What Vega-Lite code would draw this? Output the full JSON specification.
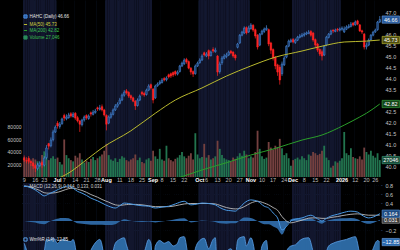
{
"$schema":"https://vega.github.io/schema/vega-lite/v6.json",
"background":"#000000",
"padding":{"left":7,"top":0,"right":0,"bottom":0},
"spacing":0,
"config":{
 "view":{"stroke":null},
 "font":"Liberation Sans",
 "axis":{"labelFont":"Liberation Sans","labelFontSize":5.5,"labelColor":"#c4c4c4","domain":false,"ticks":false,"gridColor":"#1b2f50","gridWidth":0.8,"zindex":1,"labelPadding":2,"labelOverlap":false},
 "legend":{"labelFont":"Liberation Sans","labelFontSize":4.5,"labelColor":"#e0e0e0","padding":0,"rowPadding":0,"labelOffset":1.5,"symbolSize":10,"symbolStrokeWidth":1}
},
"datasets":{
"px":[
{"d":"2025-06-09","o":40.35,"h":40.48,"l":40.18,"c":40.27,"v":32000},
{"d":"2025-06-10","o":40.25,"h":40.4,"l":40.12,"c":40.23,"v":26000},
{"d":"2025-06-11","o":40.35,"h":40.45,"l":40.1,"c":40.2,"v":24000},
{"d":"2025-06-12","o":40.22,"h":40.3,"l":40.0,"c":40.14,"v":22000},
{"d":"2025-06-13","o":40.14,"h":40.2,"l":39.86,"c":40.0,"v":30000},
{"d":"2025-06-16","o":40.02,"h":40.1,"l":39.72,"c":39.9,"v":28000},
{"d":"2025-06-17","o":39.88,"h":40.15,"l":39.8,"c":40.05,"v":25000},
{"d":"2025-06-18","o":40.02,"h":40.22,"l":39.95,"c":40.14,"v":21000},
{"d":"2025-06-20","o":40.16,"h":40.25,"l":39.92,"c":40.05,"v":35000},
{"d":"2025-06-23","o":40.04,"h":40.45,"l":39.98,"c":40.36,"v":41000},
{"d":"2025-06-24","o":40.38,"h":40.95,"l":40.3,"c":40.82,"v":38000},
{"d":"2025-06-25","o":41.02,"h":41.05,"l":40.75,"c":40.9,"v":27000},
{"d":"2025-06-26","o":40.92,"h":41.3,"l":40.85,"c":41.18,"v":30000},
{"d":"2025-06-27","o":41.2,"h":41.65,"l":41.12,"c":41.55,"v":33000},
{"d":"2025-06-30","o":41.55,"h":41.85,"l":41.5,"c":41.77,"v":29000},
{"d":"2025-07-01","o":41.95,"h":42.05,"l":41.7,"c":41.82,"v":31000},
{"d":"2025-07-02","o":41.8,"h":42.0,"l":41.7,"c":41.9,"v":24000},
{"d":"2025-07-03","o":41.92,"h":42.2,"l":41.88,"c":42.14,"v":20000},
{"d":"2025-07-07","o":42.3,"h":42.38,"l":42.05,"c":42.18,"v":60000},
{"d":"2025-07-08","o":42.15,"h":42.35,"l":42.08,"c":42.23,"v":35000},
{"d":"2025-07-09","o":42.2,"h":42.42,"l":42.15,"c":42.32,"v":30000},
{"d":"2025-07-10","o":42.38,"h":42.45,"l":42.2,"c":42.27,"v":27000},
{"d":"2025-07-11","o":42.25,"h":42.45,"l":42.2,"c":42.36,"v":25000},
{"d":"2025-07-14","o":42.4,"h":42.45,"l":42.1,"c":42.18,"v":34000},
{"d":"2025-07-15","o":42.2,"h":42.28,"l":41.98,"c":42.05,"v":31000},
{"d":"2025-07-16","o":42.05,"h":42.1,"l":41.55,"c":41.9,"v":38000},
{"d":"2025-07-17","o":41.88,"h":42.15,"l":41.8,"c":42.09,"v":28000},
{"d":"2025-07-18","o":42.1,"h":42.3,"l":42.02,"c":42.23,"v":23000},
{"d":"2025-07-21","o":42.3,"h":42.35,"l":42.1,"c":42.18,"v":26000},
{"d":"2025-07-22","o":42.16,"h":42.35,"l":42.1,"c":42.27,"v":24000},
{"d":"2025-07-23","o":42.42,"h":42.48,"l":42.25,"c":42.36,"v":29000},
{"d":"2025-07-24","o":42.35,"h":42.55,"l":42.3,"c":42.45,"v":32000},
{"d":"2025-07-25","o":42.44,"h":42.6,"l":42.38,"c":42.5,"v":27000},
{"d":"2025-07-28","o":42.65,"h":42.7,"l":42.5,"c":42.59,"v":30000},
{"d":"2025-07-29","o":42.58,"h":42.78,"l":42.52,"c":42.64,"v":33000},
{"d":"2025-07-30","o":42.7,"h":42.8,"l":42.48,"c":42.55,"v":36000},
{"d":"2025-07-31","o":42.55,"h":42.6,"l":42.25,"c":42.32,"v":42000},
{"d":"2025-08-01","o":42.3,"h":42.35,"l":41.62,"c":41.9,"v":53000},
{"d":"2025-08-04","o":41.95,"h":42.3,"l":41.9,"c":42.23,"v":35000},
{"d":"2025-08-05","o":42.22,"h":42.45,"l":42.15,"c":42.36,"v":28000},
{"d":"2025-08-06","o":42.35,"h":42.62,"l":42.3,"c":42.55,"v":26000},
{"d":"2025-08-07","o":42.55,"h":42.82,"l":42.5,"c":42.73,"v":30000},
{"d":"2025-08-08","o":42.72,"h":42.9,"l":42.65,"c":42.82,"v":24000},
{"d":"2025-08-11","o":42.85,"h":43.1,"l":42.8,"c":43.0,"v":29000},
{"d":"2025-08-12","o":43.0,"h":43.3,"l":42.95,"c":43.23,"v":33000},
{"d":"2025-08-13","o":43.22,"h":43.45,"l":43.15,"c":43.36,"v":31000},
{"d":"2025-08-14","o":43.42,"h":43.5,"l":43.25,"c":43.32,"v":27000},
{"d":"2025-08-15","o":43.35,"h":43.4,"l":43.1,"c":43.18,"v":25000},
{"d":"2025-08-18","o":43.2,"h":43.25,"l":43.0,"c":43.09,"v":28000},
{"d":"2025-08-19","o":43.1,"h":43.15,"l":42.9,"c":42.95,"v":30000},
{"d":"2025-08-20","o":42.95,"h":43.0,"l":42.55,"c":42.73,"v":36000},
{"d":"2025-08-21","o":42.75,"h":43.08,"l":42.7,"c":43.0,"v":27000},
{"d":"2025-08-22","o":43.0,"h":43.25,"l":42.95,"c":43.18,"v":31000},
{"d":"2025-08-25","o":43.35,"h":43.42,"l":43.2,"c":43.27,"v":24000},
{"d":"2025-08-26","o":43.3,"h":43.38,"l":43.15,"c":43.23,"v":22000},
{"d":"2025-08-27","o":43.25,"h":43.52,"l":43.2,"c":43.45,"v":28000},
{"d":"2025-08-28","o":43.45,"h":43.72,"l":43.4,"c":43.64,"v":30000},
{"d":"2025-08-29","o":43.7,"h":43.75,"l":43.48,"c":43.55,"v":26000},
{"d":"2025-09-02","o":43.5,"h":43.55,"l":42.85,"c":43.0,"v":42000},
{"d":"2025-09-03","o":43.1,"h":43.7,"l":43.05,"c":43.64,"v":33000},
{"d":"2025-09-04","o":43.65,"h":43.8,"l":43.6,"c":43.73,"v":29000},
{"d":"2025-09-05","o":43.75,"h":43.9,"l":43.68,"c":43.82,"v":45000},
{"d":"2025-09-08","o":43.8,"h":44.0,"l":43.75,"c":43.91,"v":28000},
{"d":"2025-09-09","o":43.98,"h":44.05,"l":43.85,"c":43.91,"v":26000},
{"d":"2025-09-10","o":43.92,"h":44.08,"l":43.85,"c":44.0,"v":50000},
{"d":"2025-09-11","o":44.15,"h":44.2,"l":43.98,"c":44.05,"v":30000},
{"d":"2025-09-12","o":44.2,"h":44.25,"l":44.0,"c":44.09,"v":27000},
{"d":"2025-09-15","o":44.25,"h":44.3,"l":44.05,"c":44.14,"v":25000},
{"d":"2025-09-16","o":44.3,"h":44.35,"l":44.1,"c":44.18,"v":29000},
{"d":"2025-09-17","o":44.18,"h":44.35,"l":44.12,"c":44.27,"v":31000},
{"d":"2025-09-18","o":44.3,"h":44.6,"l":44.25,"c":44.55,"v":35000},
{"d":"2025-09-19","o":44.55,"h":44.75,"l":44.5,"c":44.68,"v":40000},
{"d":"2025-09-22","o":44.65,"h":44.9,"l":44.6,"c":44.82,"v":33000},
{"d":"2025-09-23","o":44.85,"h":44.92,"l":44.65,"c":44.73,"v":30000},
{"d":"2025-09-24","o":44.75,"h":44.8,"l":44.4,"c":44.45,"v":34000},
{"d":"2025-09-25","o":44.45,"h":44.5,"l":44.15,"c":44.27,"v":38000},
{"d":"2025-09-26","o":44.3,"h":44.35,"l":44.05,"c":44.18,"v":28000},
{"d":"2025-09-29","o":44.2,"h":44.62,"l":44.15,"c":44.55,"v":70000},
{"d":"2025-09-30","o":44.55,"h":44.75,"l":44.5,"c":44.68,"v":36000},
{"d":"2025-10-01","o":44.7,"h":44.9,"l":44.65,"c":44.82,"v":30000},
{"d":"2025-10-02","o":44.82,"h":45.08,"l":44.78,"c":45.0,"v":32000},
{"d":"2025-10-03","o":45.15,"h":45.2,"l":44.98,"c":45.05,"v":53000},
{"d":"2025-10-06","o":45.0,"h":45.18,"l":44.95,"c":45.09,"v":31000},
{"d":"2025-10-07","o":45.25,"h":45.3,"l":44.85,"c":45.0,"v":35000},
{"d":"2025-10-08","o":45.02,"h":45.25,"l":44.98,"c":45.18,"v":28000},
{"d":"2025-10-09","o":45.3,"h":45.4,"l":45.15,"c":45.23,"v":30000},
{"d":"2025-10-10","o":45.2,"h":45.38,"l":45.15,"c":45.27,"v":33000},
{"d":"2025-10-13","o":45.0,"h":45.05,"l":44.1,"c":44.27,"v":58000},
{"d":"2025-10-14","o":44.3,"h":44.75,"l":44.2,"c":44.64,"v":45000},
{"d":"2025-10-15","o":44.7,"h":45.0,"l":44.6,"c":44.91,"v":35000},
{"d":"2025-10-16","o":44.9,"h":45.1,"l":44.85,"c":45.0,"v":30000},
{"d":"2025-10-17","o":44.98,"h":45.15,"l":44.9,"c":45.05,"v":28000},
{"d":"2025-10-20","o":45.05,"h":45.25,"l":45.0,"c":45.18,"v":27000},
{"d":"2025-10-21","o":45.22,"h":45.28,"l":45.08,"c":45.14,"v":25000},
{"d":"2025-10-22","o":45.18,"h":45.22,"l":44.92,"c":45.0,"v":31000},
{"d":"2025-10-23","o":45.05,"h":45.1,"l":44.8,"c":44.91,"v":29000},
{"d":"2025-10-24","o":45.4,"h":45.6,"l":45.35,"c":45.55,"v":33000},
{"d":"2025-10-27","o":45.6,"h":46.0,"l":45.55,"c":45.95,"v":38000},
{"d":"2025-10-28","o":45.95,"h":46.15,"l":45.9,"c":46.09,"v":34000},
{"d":"2025-10-29","o":46.05,"h":46.35,"l":46.0,"c":46.27,"v":42000},
{"d":"2025-10-30","o":46.3,"h":46.35,"l":45.98,"c":46.05,"v":36000},
{"d":"2025-10-31","o":46.1,"h":46.38,"l":46.05,"c":46.27,"v":30000},
{"d":"2025-11-03","o":46.25,"h":46.5,"l":46.2,"c":46.41,"v":33000},
{"d":"2025-11-04","o":46.4,"h":46.45,"l":46.1,"c":46.18,"v":31000},
{"d":"2025-11-05","o":46.2,"h":46.25,"l":45.8,"c":45.91,"v":40000},
{"d":"2025-11-06","o":45.95,"h":46.0,"l":45.3,"c":45.41,"v":74000},
{"d":"2025-11-07","o":45.5,"h":46.05,"l":45.45,"c":46.0,"v":45000},
{"d":"2025-11-10","o":46.0,"h":46.2,"l":45.95,"c":46.14,"v":33000},
{"d":"2025-11-11","o":46.12,"h":46.3,"l":46.05,"c":46.23,"v":29000},
{"d":"2025-11-12","o":46.2,"h":46.4,"l":46.15,"c":46.27,"v":31000},
{"d":"2025-11-13","o":46.2,"h":46.25,"l":45.45,"c":45.55,"v":56000},
{"d":"2025-11-14","o":45.6,"h":45.65,"l":45.1,"c":45.27,"v":47000},
{"d":"2025-11-17","o":45.3,"h":45.35,"l":44.8,"c":44.91,"v":44000},
{"d":"2025-11-18","o":44.95,"h":45.0,"l":44.4,"c":44.55,"v":50000},
{"d":"2025-11-19","o":44.6,"h":44.65,"l":44.1,"c":44.27,"v":48000},
{"d":"2025-11-20","o":44.5,"h":44.6,"l":43.7,"c":43.91,"v":61000},
{"d":"2025-11-21","o":44.2,"h":44.75,"l":44.1,"c":44.64,"v":46000},
{"d":"2025-11-24","o":44.6,"h":45.0,"l":44.55,"c":44.91,"v":35000},
{"d":"2025-11-25","o":44.95,"h":45.5,"l":44.9,"c":45.45,"v":38000},
{"d":"2025-11-26","o":45.45,"h":45.75,"l":45.4,"c":45.68,"v":30000},
{"d":"2025-11-28","o":45.65,"h":45.8,"l":45.6,"c":45.73,"v":18000},
{"d":"2025-12-01","o":45.75,"h":45.82,"l":45.58,"c":45.64,"v":27000},
{"d":"2025-12-02","o":45.62,"h":45.8,"l":45.55,"c":45.73,"v":29000},
{"d":"2025-12-03","o":45.72,"h":45.92,"l":45.68,"c":45.86,"v":31000},
{"d":"2025-12-04","o":45.85,"h":46.0,"l":45.8,"c":45.91,"v":28000},
{"d":"2025-12-05","o":45.9,"h":46.05,"l":45.85,"c":45.95,"v":33000},
{"d":"2025-12-08","o":45.95,"h":46.08,"l":45.88,"c":46.0,"v":30000},
{"d":"2025-12-09","o":46.0,"h":46.12,"l":45.95,"c":46.05,"v":27000},
{"d":"2025-12-10","o":46.02,"h":46.18,"l":46.0,"c":46.09,"v":36000},
{"d":"2025-12-11","o":46.12,"h":46.18,"l":45.88,"c":45.95,"v":34000},
{"d":"2025-12-12","o":46.05,"h":46.1,"l":45.65,"c":45.73,"v":40000},
{"d":"2025-12-15","o":45.75,"h":45.8,"l":45.4,"c":45.5,"v":38000},
{"d":"2025-12-16","o":45.55,"h":45.6,"l":45.18,"c":45.27,"v":35000},
{"d":"2025-12-17","o":45.3,"h":45.35,"l":45.0,"c":45.09,"v":37000},
{"d":"2025-12-18","o":45.2,"h":45.3,"l":44.8,"c":45.0,"v":42000},
{"d":"2025-12-19","o":45.05,"h":45.5,"l":45.0,"c":45.45,"v":50000},
{"d":"2025-12-22","o":45.5,"h":45.92,"l":45.45,"c":45.86,"v":31000},
{"d":"2025-12-23","o":45.85,"h":46.05,"l":45.8,"c":46.0,"v":27000},
{"d":"2025-12-24","o":46.0,"h":46.2,"l":45.95,"c":46.14,"v":15000},
{"d":"2025-12-26","o":46.18,"h":46.22,"l":46.05,"c":46.14,"v":18000},
{"d":"2025-12-29","o":46.12,"h":46.25,"l":46.08,"c":46.18,"v":25000},
{"d":"2025-12-30","o":46.22,"h":46.28,"l":46.1,"c":46.18,"v":23000},
{"d":"2025-12-31","o":46.18,"h":46.3,"l":46.12,"c":46.23,"v":26000},
{"d":"2026-01-02","o":46.22,"h":46.35,"l":46.15,"c":46.27,"v":30000},
{"d":"2026-01-05","o":46.1,"h":46.35,"l":46.05,"c":46.23,"v":72000},
{"d":"2026-01-06","o":46.22,"h":46.4,"l":46.18,"c":46.32,"v":38000},
{"d":"2026-01-07","o":46.3,"h":46.45,"l":46.25,"c":46.36,"v":35000},
{"d":"2026-01-08","o":46.35,"h":46.55,"l":46.3,"c":46.45,"v":46000},
{"d":"2026-01-09","o":46.5,"h":46.55,"l":46.35,"c":46.41,"v":32000},
{"d":"2026-01-12","o":46.42,"h":46.62,"l":46.38,"c":46.55,"v":30000},
{"d":"2026-01-13","o":46.6,"h":46.65,"l":46.4,"c":46.45,"v":29000},
{"d":"2026-01-14","o":46.42,"h":46.45,"l":46.1,"c":46.14,"v":33000},
{"d":"2026-01-15","o":46.15,"h":46.2,"l":46.0,"c":46.09,"v":28000},
{"d":"2026-01-16","o":46.0,"h":46.05,"l":45.3,"c":45.41,"v":47000},
{"d":"2026-01-20","o":45.42,"h":45.62,"l":45.3,"c":45.5,"v":40000},
{"d":"2026-01-21","o":45.5,"h":45.8,"l":45.45,"c":45.73,"v":36000},
{"d":"2026-01-22","o":45.75,"h":46.0,"l":45.7,"c":45.95,"v":42000},
{"d":"2026-01-23","o":45.95,"h":46.15,"l":45.9,"c":46.09,"v":34000},
{"d":"2026-01-26","o":46.1,"h":46.25,"l":46.05,"c":46.18,"v":31000},
{"d":"2026-01-27","o":46.2,"h":46.6,"l":46.15,"c":46.55,"v":38000},
{"d":"2026-01-28","o":46.55,"h":46.82,"l":46.5,"c":46.66,"v":27046}
],
"ma50":[
{"d":"2025-06-09","v":38.9},{"d":"2025-06-24","v":39.25},{"d":"2025-07-08","v":39.62},{"d":"2025-07-22","v":40.36},{"d":"2025-07-30","v":40.82},{"d":"2025-08-18","v":41.6},{"d":"2025-09-03","v":42.4},{"d":"2025-09-16","v":43.0},{"d":"2025-10-02","v":43.55},{"d":"2025-10-17","v":44.09},{"d":"2025-11-03","v":44.55},{"d":"2025-11-18","v":44.95},{"d":"2025-12-05","v":45.23},{"d":"2025-12-18","v":45.45},{"d":"2026-01-05","v":45.64},{"d":"2026-01-20","v":45.68},{"d":"2026-01-28","v":45.73}
],
"ma200":[
{"d":"2025-06-09","v":37.2},{"d":"2025-07-15","v":38.1},{"d":"2025-08-19","v":38.9},{"d":"2025-09-17","v":39.45},{"d":"2025-10-02","v":39.82},{"d":"2025-10-17","v":40.15},{"d":"2025-11-03","v":40.5},{"d":"2025-11-18","v":40.8},{"d":"2025-12-05","v":41.18},{"d":"2025-12-18","v":41.41},{"d":"2026-01-05","v":41.86},{"d":"2026-01-14","v":42.23},{"d":"2026-01-20","v":42.4},{"d":"2026-01-28","v":42.82}
],
"macd":[
{"d":"2025-06-09","m":0.78,"s":0.78,"h":0.0},
{"d":"2025-06-12","m":0.74,"s":0.76,"h":-0.02},
{"d":"2025-06-16","m":0.69,"s":0.72,"h":-0.03},
{"d":"2025-06-18","m":0.62,"s":0.68,"h":-0.06},
{"d":"2025-06-23","m":0.56,"s":0.63,"h":-0.07},
{"d":"2025-06-25","m":0.6,"s":0.62,"h":-0.02},
{"d":"2025-06-30","m":0.67,"s":0.63,"h":0.04},
{"d":"2025-07-03","m":0.74,"s":0.67,"h":0.07},
{"d":"2025-07-09","m":0.78,"s":0.72,"h":0.06},
{"d":"2025-07-11","m":0.73,"s":0.73,"h":0.0},
{"d":"2025-07-15","m":0.66,"s":0.71,"h":-0.05},
{"d":"2025-07-17","m":0.62,"s":0.68,"h":-0.06},
{"d":"2025-07-21","m":0.57,"s":0.64,"h":-0.07},
{"d":"2025-07-23","m":0.51,"s":0.59,"h":-0.08},
{"d":"2025-07-28","m":0.45,"s":0.53,"h":-0.08},
{"d":"2025-07-30","m":0.4,"s":0.48,"h":-0.08},
{"d":"2025-08-04","m":0.33,"s":0.42,"h":-0.09},
{"d":"2025-08-07","m":0.29,"s":0.36,"h":-0.07},
{"d":"2025-08-11","m":0.34,"s":0.35,"h":-0.01},
{"d":"2025-08-13","m":0.4,"s":0.36,"h":0.04},
{"d":"2025-08-15","m":0.39,"s":0.37,"h":0.02},
{"d":"2025-08-20","m":0.36,"s":0.37,"h":-0.01},
{"d":"2025-08-25","m":0.34,"s":0.36,"h":-0.02},
{"d":"2025-08-28","m":0.33,"s":0.34,"h":-0.01},
{"d":"2025-09-03","m":0.29,"s":0.32,"h":-0.03},
{"d":"2025-09-08","m":0.31,"s":0.32,"h":-0.01},
{"d":"2025-09-11","m":0.33,"s":0.32,"h":0.01},
{"d":"2025-09-16","m":0.38,"s":0.34,"h":0.04},
{"d":"2025-09-22","m":0.44,"s":0.38,"h":0.06},
{"d":"2025-09-25","m":0.36,"s":0.39,"h":-0.03},
{"d":"2025-09-30","m":0.38,"s":0.39,"h":-0.01},
{"d":"2025-10-02","m":0.4,"s":0.39,"h":0.01},
{"d":"2025-10-07","m":0.39,"s":0.39,"h":0.0},
{"d":"2025-10-10","m":0.36,"s":0.38,"h":-0.02},
{"d":"2025-10-14","m":0.3,"s":0.35,"h":-0.05},
{"d":"2025-10-17","m":0.24,"s":0.3,"h":-0.06},
{"d":"2025-10-21","m":0.23,"s":0.28,"h":-0.05},
{"d":"2025-10-23","m":0.22,"s":0.27,"h":-0.05},
{"d":"2025-10-27","m":0.3,"s":0.28,"h":0.02},
{"d":"2025-10-29","m":0.4,"s":0.32,"h":0.08},
{"d":"2025-11-03","m":0.47,"s":0.4,"h":0.07},
{"d":"2025-11-06","m":0.44,"s":0.44,"h":0.0},
{"d":"2025-11-11","m":0.33,"s":0.4,"h":-0.07},
{"d":"2025-11-13","m":0.29,"s":0.36,"h":-0.07},
{"d":"2025-11-17","m":0.18,"s":0.3,"h":-0.12},
{"d":"2025-11-19","m":0.07,"s":0.24,"h":-0.17},
{"d":"2025-11-21","m":-0.2,"s":0.1,"h":-0.3},
{"d":"2025-11-25","m":-0.12,"s":0.0,"h":-0.12},
{"d":"2025-11-28","m":0.0,"s":-0.04,"h":0.04},
{"d":"2025-12-02","m":0.04,"s":-0.02,"h":0.06},
{"d":"2025-12-05","m":0.07,"s":0.02,"h":0.05},
{"d":"2025-12-11","m":0.13,"s":0.07,"h":0.06},
{"d":"2025-12-16","m":0.05,"s":0.07,"h":-0.02},
{"d":"2025-12-18","m":0.0,"s":0.06,"h":-0.06},
{"d":"2025-12-22","m":0.06,"s":0.06,"h":0.0},
{"d":"2025-12-24","m":0.11,"s":0.08,"h":0.03},
{"d":"2025-12-30","m":0.15,"s":0.1,"h":0.05},
{"d":"2026-01-02","m":0.18,"s":0.12,"h":0.06},
{"d":"2026-01-08","m":0.22,"s":0.15,"h":0.07},
{"d":"2026-01-13","m":0.2,"s":0.16,"h":0.04},
{"d":"2026-01-15","m":0.13,"s":0.15,"h":-0.02},
{"d":"2026-01-21","m":0.07,"s":0.13,"h":-0.06},
{"d":"2026-01-26","m":0.11,"s":0.13,"h":-0.02},
{"d":"2026-01-28","m":0.164,"s":0.133,"h":0.031}
],
"wr":[
{"d":"2025-06-09","w":-15},{"d":"2025-06-11","w":-40},{"d":"2025-06-13","w":-75},{"d":"2025-06-16","w":-85},{"d":"2025-06-18","w":-60},{"d":"2025-06-23","w":-30},{"d":"2025-06-24","w":-8},{"d":"2025-06-26","w":-10},{"d":"2025-06-27","w":-5},{"d":"2025-07-01","w":-15},{"d":"2025-07-03","w":-8},{"d":"2025-07-08","w":-10},{"d":"2025-07-10","w":-12},{"d":"2025-07-11","w":-8},{"d":"2025-07-15","w":-50},{"d":"2025-07-16","w":-80},{"d":"2025-07-18","w":-40},{"d":"2025-07-22","w":-35},{"d":"2025-07-24","w":-20},{"d":"2025-07-28","w":-10},{"d":"2025-07-29","w":-8},{"d":"2025-07-31","w":-45},{"d":"2025-08-01","w":-85},{"d":"2025-08-05","w":-50},{"d":"2025-08-07","w":-15},{"d":"2025-08-11","w":-8},{"d":"2025-08-13","w":-5},{"d":"2025-08-14","w":-18},{"d":"2025-08-18","w":-45},{"d":"2025-08-20","w":-80},{"d":"2025-08-22","w":-35},{"d":"2025-08-26","w":-30},{"d":"2025-08-28","w":-8},{"d":"2025-08-29","w":-15},{"d":"2025-09-02","w":-70},{"d":"2025-09-03","w":-20},{"d":"2025-09-05","w":-10},{"d":"2025-09-09","w":-15},{"d":"2025-09-11","w":-12},{"d":"2025-09-15","w":-20},{"d":"2025-09-17","w":-15},{"d":"2025-09-18","w":-5},{"d":"2025-09-22","w":-3},{"d":"2025-09-24","w":-45},{"d":"2025-09-26","w":-65},{"d":"2025-09-29","w":-25},{"d":"2025-10-01","w":-10},{"d":"2025-10-03","w":-6},{"d":"2025-10-07","w":-25},{"d":"2025-10-09","w":-8},{"d":"2025-10-10","w":-5},{"d":"2025-10-13","w":-75},{"d":"2025-10-15","w":-40},{"d":"2025-10-17","w":-30},{"d":"2025-10-21","w":-25},{"d":"2025-10-23","w":-40},{"d":"2025-10-24","w":-10},{"d":"2025-10-27","w":-5},{"d":"2025-10-29","w":-3},{"d":"2025-10-30","w":-20},{"d":"2025-11-03","w":-5},{"d":"2025-11-05","w":-40},{"d":"2025-11-06","w":-75},{"d":"2025-11-10","w":-20},{"d":"2025-11-12","w":-10},{"d":"2025-11-13","w":-50},{"d":"2025-11-17","w":-80},{"d":"2025-11-19","w":-90},{"d":"2025-11-20","w":-95},{"d":"2025-11-21","w":-60},{"d":"2025-11-25","w":-30},{"d":"2025-11-28","w":-20},{"d":"2025-12-02","w":-18},{"d":"2025-12-04","w":-10},{"d":"2025-12-08","w":-6},{"d":"2025-12-10","w":-5},{"d":"2025-12-12","w":-30},{"d":"2025-12-16","w":-60},{"d":"2025-12-18","w":-75},{"d":"2025-12-19","w":-50},{"d":"2025-12-23","w":-20},{"d":"2025-12-26","w":-15},{"d":"2025-12-30","w":-12},{"d":"2026-01-02","w":-10},{"d":"2026-01-06","w":-8},{"d":"2026-01-08","w":-5},{"d":"2026-01-12","w":-3},{"d":"2026-01-14","w":-35},{"d":"2026-01-16","w":-70},{"d":"2026-01-21","w":-50},{"d":"2026-01-23","w":-25},{"d":"2026-01-27","w":-10},{"d":"2026-01-28","w":-12.85}
]
},
"resolve":{"scale":{"color":"independent"}},
"vconcat":[
{
 "width":360,"height":177,
 "resolve":{"scale":{"y":"independent"}},
 "layer":[
  {"data":{"name":"px"},"mark":{"type":"bar","width":{"band":1}},
   "encoding":{
    "x":{"field":"d","type":"ordinal","scale":{"paddingInner":0,"paddingOuter":0.5},
     "axis":{"title":null,"grid":true,"bandPosition":0,"labelAngle":0,"labelOverlap":false,"labelPadding":0,
      "values":["2025-06-09","2025-06-16","2025-06-23","2025-07-01","2025-07-07","2025-07-14","2025-07-21","2025-07-28","2025-08-01","2025-08-11","2025-08-18","2025-08-25","2025-09-02","2025-09-08","2025-09-15","2025-09-22","2025-10-01","2025-10-06","2025-10-13","2025-10-20","2025-10-27","2025-11-03","2025-11-10","2025-11-17","2025-11-24","2025-12-01","2025-12-08","2025-12-15","2025-12-22","2026-01-02","2026-01-12","2026-01-20","2026-01-26"],
      "labelExpr":"indexof(['2025-07-01','2025-08-01','2025-09-02','2025-10-01','2025-11-03','2025-12-01','2026-01-02'], datum.value) >= 0 ? ['Jul','Aug','Sep','Oct','Nov','Dec','2026'][indexof(['2025-07-01','2025-08-01','2025-09-02','2025-10-01','2025-11-03','2025-12-01','2026-01-02'], datum.value)] : '' + toNumber(slice(datum.value, 8, 10))",
      "labelFontWeight":{"condition":{"test":"indexof(['2025-07-01','2025-08-01','2025-09-02','2025-10-01','2025-11-03','2025-12-01','2026-01-02'], datum.value) >= 0","value":"bold"},"value":"normal"},
      "labelColor":{"condition":{"test":"indexof(['2025-07-01','2025-08-01','2025-09-02','2025-10-01','2025-11-03','2025-12-01','2026-01-02'], datum.value) >= 0","value":"#ffffff"},"value":"#bdbdbd"}}},
    "fill":{"condition":{"test":"utcmonth(toDate(datum.d)) % 2 == 1","value":"#12162d"},"value":"#000000"}}},
  {"layer":[
   {"data":{"name":"px"},"mark":{"type":"bar","width":{"band":0.82}},
    "encoding":{"x":{"field":"d","type":"ordinal"},
     "y":{"field":"v","type":"quantitative","title":null,"scale":{"domain":[0,283000],"nice":false},"axis":{"orient":"left","values":[20000,40000,60000,80000],"format":"d","grid":false,"labelFontSize":5,"labelPadding":1,"labelOverlap":false}},
     "color":{"condition":{"test":"datum.c >= datum.o","value":"#22744f"},"value":"#74403f"}}},
   {"data":{"name":"px"},"transform":[{"filter":"datum.d == '2026-01-28'"}],
    "mark":{"type":"point","shape":"M-1,-0.42L1,-0.42L1,0.42L-1,0.42Z","size":300,"filled":true,"opacity":1,"fill":"#1b4d3b","stroke":"#3aa07a","strokeWidth":0.6,"xOffset":11},
    "encoding":{"x":{"field":"d","type":"ordinal"},"y":{"field":"v","type":"quantitative","title":null,"axis":{"orient":"left","values":[20000,40000,60000,80000],"format":"d","grid":false,"labelFontSize":5,"labelPadding":1,"labelOverlap":false}}}},
   {"data":{"name":"px"},"transform":[{"filter":"datum.d == '2026-01-28'"}],
    "mark":{"type":"text","fontSize":5.5,"fill":"#ffffff","dx":11,"font":"Liberation Sans"},
    "encoding":{"x":{"field":"d","type":"ordinal"},"y":{"field":"v","type":"quantitative","title":null,"axis":{"orient":"left","values":[20000,40000,60000,80000],"format":"d","grid":false,"labelFontSize":5,"labelPadding":1,"labelOverlap":false}},"text":{"field":"v","type":"quantitative","format":"d"}}}
  ]},
  {"layer":[
   {"data":{"name":"px"},"mark":{"type":"rule","strokeWidth":0.7},
    "encoding":{"x":{"field":"d","type":"ordinal"},
     "y":{"field":"l","type":"quantitative","title":null,"scale":{"domain":[39.5,47.55],"nice":false,"zero":false},
      "axis":{"orient":"right","values":[40,40.5,41,41.5,42,42.5,43.5,44,44.5,45,45.5,46,47],"format":".1f","labelPadding":3,"labelOverlap":false}},
     "y2":{"field":"h"},
     "color":{"condition":{"test":"datum.c >= datum.o","value":"#4a8ee0"},"value":"#ff2424"}}},
   {"data":{"name":"px"},"mark":{"type":"bar","width":{"band":0.72},"strokeWidth":0.5},
    "encoding":{"x":{"field":"d","type":"ordinal"},"y":{"field":"o","type":"quantitative","title":null,"axis":{"orient":"right","values":[40,40.5,41,41.5,42,42.5,43.5,44,44.5,45,45.5,46,47],"format":".1f","labelPadding":3,"labelOverlap":false}},"y2":{"field":"c"},
     "fill":{"condition":{"test":"datum.c >= datum.o","value":"#1a3a6a"},"value":"#ff2424"},
     "stroke":{"condition":{"test":"datum.c >= datum.o","value":"#4f93e6"},"value":"#ff2424"}}},
   {"data":{"name":"ma50"},"mark":{"type":"line","strokeWidth":1,"clip":true,"interpolate":"monotone"},
    "encoding":{"x":{"field":"d","type":"ordinal"},"y":{"field":"v","type":"quantitative","title":null,"axis":{"orient":"right","values":[40,40.5,41,41.5,42,42.5,43.5,44,44.5,45,45.5,46,47],"format":".1f","labelPadding":3,"labelOverlap":false}},
     "color":{"datum":"MA(50) 45.73","type":"nominal",
      "scale":{"domain":["HAHC (Daily) 46.66","MA(50) 45.73","MA(200) 42.82","Volume 27,046"],"range":["#4a8ee0","#b9b92e","#2a9e2a","#2a8a5a"]},
      "legend":{"title":null,"orient":"none","legendX":1,"legendY":14,
       "encode":{
        "labels":{"update":{"fill":{"signal":"datum.value == 'MA(50) 45.73' ? '#d2d23c' : (datum.value == 'MA(200) 42.82' || datum.value == 'Volume 27,046') ? '#3cc050' : '#e6e6e6'"}}},
        "symbols":{"update":{
         "shape":{"signal":"indexof(datum.value, 'MA(') == 0 ? 'stroke' : 'square'"},
         "fill":{"signal":"datum.value == 'HAHC (Daily) 46.66' ? '#2a5da8' : datum.value == 'Volume 27,046' ? '#2a8a5a' : 'transparent'"},
         "stroke":{"signal":"datum.value == 'MA(50) 45.73' ? '#c9c93c' : datum.value == 'MA(200) 42.82' ? '#2aae2a' : datum.value == 'Volume 27,046' ? '#2a8a5a' : '#6aa8ff'"},
         "strokeWidth":{"value":1}}}}}}}},
   {"data":{"name":"ma200"},"mark":{"type":"line","strokeWidth":1,"clip":true,"interpolate":"monotone"},
    "encoding":{"x":{"field":"d","type":"ordinal"},"y":{"field":"v","type":"quantitative","title":null,"axis":{"orient":"right","values":[40,40.5,41,41.5,42,42.5,43.5,44,44.5,45,45.5,46,47],"format":".1f","labelPadding":3,"labelOverlap":false}},
     "color":{"datum":"MA(200) 42.82","type":"nominal"}}},
   {"data":{"name":"px"},"transform":[{"filter":"datum.d == '2026-01-28'"}],
    "mark":{"type":"point","shape":"M-1,-0.42L1,-0.42L1,0.42L-1,0.42Z","size":300,"filled":true,"opacity":1,"fill":"#24579a","stroke":"#6fa3e6","strokeWidth":0.6,"xOffset":11},
    "encoding":{"x":{"field":"d","type":"ordinal"},"y":{"field":"c","type":"quantitative","title":null,"axis":{"orient":"right","values":[40,40.5,41,41.5,42,42.5,43.5,44,44.5,45,45.5,46,47],"format":".1f","labelPadding":3,"labelOverlap":false}}}},
   {"data":{"name":"px"},"transform":[{"filter":"datum.d == '2026-01-28'"}],
    "mark":{"type":"text","fontSize":5.5,"fill":"#ffffff","dx":11,"font":"Liberation Sans"},
    "encoding":{"x":{"field":"d","type":"ordinal"},"y":{"field":"c","type":"quantitative","title":null,"axis":{"orient":"right","values":[40,40.5,41,41.5,42,42.5,43.5,44,44.5,45,45.5,46,47],"format":".1f","labelPadding":3,"labelOverlap":false}},"text":{"field":"c","type":"quantitative","format":".2f"}}},
   {"data":{"name":"ma50"},"transform":[{"filter":"datum.d == '2026-01-28'"}],
    "mark":{"type":"point","shape":"M-1,-0.42L1,-0.42L1,0.42L-1,0.42Z","size":300,"filled":true,"opacity":1,"fill":"#4d4d10","stroke":"#c9c93c","strokeWidth":0.6,"xOffset":11},
    "encoding":{"x":{"field":"d","type":"ordinal"},"y":{"field":"v","type":"quantitative","title":null,"axis":{"orient":"right","values":[40,40.5,41,41.5,42,42.5,43.5,44,44.5,45,45.5,46,47],"format":".1f","labelPadding":3,"labelOverlap":false}}}},
   {"data":{"name":"ma50"},"transform":[{"filter":"datum.d == '2026-01-28'"}],
    "mark":{"type":"text","fontSize":5.5,"fill":"#ffffff","dx":11,"font":"Liberation Sans"},
    "encoding":{"x":{"field":"d","type":"ordinal"},"y":{"field":"v","type":"quantitative","title":null,"axis":{"orient":"right","values":[40,40.5,41,41.5,42,42.5,43.5,44,44.5,45,45.5,46,47],"format":".1f","labelPadding":3,"labelOverlap":false}},"text":{"field":"v","type":"quantitative","format":".2f"}}},
   {"data":{"name":"ma200"},"transform":[{"filter":"datum.d == '2026-01-28'"}],
    "mark":{"type":"point","shape":"M-1,-0.42L1,-0.42L1,0.42L-1,0.42Z","size":300,"filled":true,"opacity":1,"fill":"#14461a","stroke":"#3cb043","strokeWidth":0.6,"xOffset":11},
    "encoding":{"x":{"field":"d","type":"ordinal"},"y":{"field":"v","type":"quantitative","title":null,"axis":{"orient":"right","values":[40,40.5,41,41.5,42,42.5,43.5,44,44.5,45,45.5,46,47],"format":".1f","labelPadding":3,"labelOverlap":false}}}},
   {"data":{"name":"ma200"},"transform":[{"filter":"datum.d == '2026-01-28'"}],
    "mark":{"type":"text","fontSize":5.5,"fill":"#ffffff","dx":11,"font":"Liberation Sans"},
    "encoding":{"x":{"field":"d","type":"ordinal"},"y":{"field":"v","type":"quantitative","title":null,"axis":{"orient":"right","values":[40,40.5,41,41.5,42,42.5,43.5,44,44.5,45,45.5,46,47],"format":".1f","labelPadding":3,"labelOverlap":false}},"text":{"field":"v","type":"quantitative","format":".2f"}}}
  ]}
 ]
},
{
 "width":360,"height":52,
 "layer":[
  {"data":{"name":"px"},"mark":{"type":"bar","width":{"band":1}},
   "encoding":{
    "x":{"field":"d","type":"ordinal","scale":{"paddingInner":0,"paddingOuter":0.5},
     "axis":{"title":null,"grid":true,"bandPosition":0,"labels":false,
      "values":["2025-06-09","2025-06-16","2025-06-23","2025-07-01","2025-07-07","2025-07-14","2025-07-21","2025-07-28","2025-08-01","2025-08-11","2025-08-18","2025-08-25","2025-09-02","2025-09-08","2025-09-15","2025-09-22","2025-10-01","2025-10-06","2025-10-13","2025-10-20","2025-10-27","2025-11-03","2025-11-10","2025-11-17","2025-11-24","2025-12-01","2025-12-08","2025-12-15","2025-12-22","2026-01-02","2026-01-12","2026-01-20","2026-01-26"]}},
    "fill":{"condition":{"test":"utcmonth(toDate(datum.d)) % 2 == 1","value":"#12162d"},"value":"#000000"}}},
  {"data":{"name":"macd"},"mark":{"type":"area","interpolate":"monotone","color":"#2f6aa8","opacity":0.95},
   "encoding":{"x":{"field":"d","type":"ordinal"},
    "y":{"field":"h","type":"quantitative","title":null,"scale":{"domain":[-0.31,0.846],"nice":false,"zero":false},"axis":{"orient":"right","values":[-0.2,0.4,0.6,0.8],"format":".1f","labelPadding":3,"labelOverlap":false}},
    "y2":{"datum":0}}},
  {"data":{"name":"macd"},"mark":{"type":"line","interpolate":"monotone","color":"#bdbdbd","strokeWidth":0.9},
   "encoding":{"x":{"field":"d","type":"ordinal"},"y":{"field":"s","type":"quantitative","title":null,"axis":{"orient":"right","values":[-0.2,0.4,0.6,0.8],"format":".1f","labelPadding":3,"labelOverlap":false}}}},
  {"data":{"name":"macd"},"mark":{"type":"line","interpolate":"monotone","strokeWidth":1},
   "encoding":{"x":{"field":"d","type":"ordinal"},"y":{"field":"m","type":"quantitative","title":null,"axis":{"orient":"right","values":[-0.2,0.4,0.6,0.8],"format":".1f","labelPadding":3,"labelOverlap":false}},
    "color":{"datum":"MACD (12,26,9) 0.164, 0.133, 0.031","type":"nominal","scale":{"range":["#4a9ae6"]},
     "legend":{"title":null,"orient":"none","legendX":1,"legendY":1,"symbolType":"stroke","labelColor":"#d6d6d6"}}}},
  {"data":{"name":"macd"},"transform":[{"filter":"datum.d == '2026-01-28'"}],
   "mark":{"type":"point","shape":"M-1,-0.42L1,-0.42L1,0.42L-1,0.42Z","size":300,"filled":true,"opacity":1,"fill":"#3a3a3a","stroke":"#aaaaaa","strokeWidth":0.6,"xOffset":11},
   "encoding":{"x":{"field":"d","type":"ordinal"},"y":{"field":"h","type":"quantitative","title":null,"axis":{"orient":"right","values":[-0.2,0.4,0.6,0.8],"format":".1f","labelPadding":3,"labelOverlap":false}}}},
  {"data":{"name":"macd"},"transform":[{"filter":"datum.d == '2026-01-28'"}],
   "mark":{"type":"text","fontSize":5.5,"fill":"#ffffff","dx":11,"font":"Liberation Sans"},
   "encoding":{"x":{"field":"d","type":"ordinal"},"y":{"field":"h","type":"quantitative","title":null,"axis":{"orient":"right","values":[-0.2,0.4,0.6,0.8],"format":".1f","labelPadding":3,"labelOverlap":false}},"text":{"field":"h","type":"quantitative","format":".3f"}}},
  {"data":{"name":"macd"},"transform":[{"filter":"datum.d == '2026-01-28'"}],
   "mark":{"type":"point","shape":"M-1,-0.42L1,-0.42L1,0.42L-1,0.42Z","size":300,"filled":true,"opacity":1,"fill":"#1d4a80","stroke":"#5b9be6","strokeWidth":0.6,"xOffset":11},
   "encoding":{"x":{"field":"d","type":"ordinal"},"y":{"field":"m","type":"quantitative","title":null,"axis":{"orient":"right","values":[-0.2,0.4,0.6,0.8],"format":".1f","labelPadding":3,"labelOverlap":false}}}},
  {"data":{"name":"macd"},"transform":[{"filter":"datum.d == '2026-01-28'"}],
   "mark":{"type":"text","fontSize":5.5,"fill":"#ffffff","dx":11,"font":"Liberation Sans"},
   "encoding":{"x":{"field":"d","type":"ordinal"},"y":{"field":"m","type":"quantitative","title":null,"axis":{"orient":"right","values":[-0.2,0.4,0.6,0.8],"format":".1f","labelPadding":3,"labelOverlap":false}},"text":{"field":"m","type":"quantitative","format":".3f"}}}
 ]
},
{
 "width":360,"height":55,
 "layer":[
  {"data":{"name":"px"},"mark":{"type":"bar","width":{"band":1}},
   "encoding":{
    "x":{"field":"d","type":"ordinal","scale":{"paddingInner":0,"paddingOuter":0.5},
     "axis":{"title":null,"grid":true,"bandPosition":0,"labels":false,
      "values":["2025-06-09","2025-06-16","2025-06-23","2025-07-01","2025-07-07","2025-07-14","2025-07-21","2025-07-28","2025-08-01","2025-08-11","2025-08-18","2025-08-25","2025-09-02","2025-09-08","2025-09-15","2025-09-22","2025-10-01","2025-10-06","2025-10-13","2025-10-20","2025-10-27","2025-11-03","2025-11-10","2025-11-17","2025-11-24","2025-12-01","2025-12-08","2025-12-15","2025-12-22","2026-01-02","2026-01-12","2026-01-20","2026-01-26"]}},
    "fill":{"condition":{"test":"utcmonth(toDate(datum.d)) % 2 == 1","value":"#12162d"},"value":"#000000"}}},
  {"data":{"name":"wr"},"mark":{"type":"area","interpolate":"monotone","color":"#2e6eaa","opacity":0.95},
   "encoding":{"x":{"field":"d","type":"ordinal"},
    "y":{"field":"w","type":"quantitative","title":null,"scale":{"domain":[-100,0],"nice":false},"axis":{"orient":"right","labels":false,"grid":false}},
    "y2":{"datum":-100}}},
  {"data":{"name":"wr"},"mark":{"type":"line","interpolate":"monotone","strokeWidth":0.8},
   "encoding":{"x":{"field":"d","type":"ordinal"},"y":{"field":"w","type":"quantitative","title":null,"axis":{"orient":"right","labels":false,"grid":false}},
    "color":{"datum":"Wm%R (14) -12.85","type":"nominal","scale":{"range":["#5aa0e8"]},
     "legend":{"title":null,"orient":"none","legendX":1,"legendY":2,"symbolType":"square","labelColor":"#e6e6e6"}}}},
  {"data":{"name":"wr"},"transform":[{"filter":"datum.d == '2026-01-28'"}],
   "mark":{"type":"point","shape":"M-1,-0.42L1,-0.42L1,0.42L-1,0.42Z","size":300,"filled":true,"opacity":1,"fill":"#2a6ab0","stroke":"#6fa3e6","strokeWidth":0.6,"xOffset":11},
   "encoding":{"x":{"field":"d","type":"ordinal"},"y":{"field":"w","type":"quantitative","title":null,"axis":{"orient":"right","labels":false,"grid":false}}}},
  {"data":{"name":"wr"},"transform":[{"filter":"datum.d == '2026-01-28'"}],
   "mark":{"type":"text","fontSize":5.5,"fill":"#ffffff","dx":11,"font":"Liberation Sans"},
   "encoding":{"x":{"field":"d","type":"ordinal"},"y":{"field":"w","type":"quantitative","title":null,"axis":{"orient":"right","labels":false,"grid":false}},"text":{"field":"w","type":"quantitative","format":".2f"}}}
 ]
}
]
}
